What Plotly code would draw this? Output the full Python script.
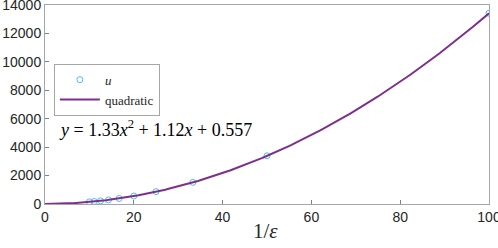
import numpy as np
import plotly.graph_objects as go

inv_eps = [10, 11.1, 12.5, 14.3, 16.7, 20, 25, 33.3, 50, 100]
u_vals = [147, 178, 224, 290, 390, 560, 870, 1520, 3390, 13420]
coef = [1.33, 1.12, 0.557]
x_ticks = [0, 20, 40, 60, 80, 100]
y_ticks = [0, 2000, 4000, 6000, 8000, 10000, 12000, 14000]

xf = np.linspace(0, 100, 300)
yf = coef[0] * xf**2 + coef[1] * xf + coef[2]

fig = go.Figure()
fig.add_trace(go.Scatter(x=inv_eps, y=u_vals, mode="markers", name="<i>u</i>",
                         marker=dict(symbol="circle-open", size=6, color="#4DBEEE",
                                     line=dict(width=1, color="#4DBEEE"))))
fig.add_trace(go.Scatter(x=xf, y=yf, mode="lines", name="quadratic",
                         line=dict(color="#7E2F8E", width=2)))

axis_common = dict(showline=True, mirror=True, linecolor="#a6a6a6", linewidth=1,
                   ticks="inside", ticklen=4, tickcolor="#808080", showgrid=False,
                   zeroline=False, automargin=False, ticklabeloverflow="allow",
                   tickfont=dict(family="Liberation Sans, Arial", size=14, color="#262626"))

fig.update_layout(
    width=498, height=248,
    margin=dict(l=45, r=9, t=5, b=44),
    paper_bgcolor="white", plot_bgcolor="white",
    showlegend=True,
    legend=dict(x=0.02, y=0.705, xanchor="left", yanchor="top",
                bordercolor="#a6a6a6", borderwidth=1, bgcolor="white",
                font=dict(family="Liberation Serif, Times New Roman", size=13, color="#262626"),
                tracegroupgap=0, itemwidth=40),
    xaxis=dict(range=[0, 100], tickvals=x_ticks, ticktext=[str(v) for v in x_ticks], **axis_common),
    yaxis=dict(range=[0, 14000], tickvals=y_ticks, ticktext=[str(v) for v in y_ticks], **axis_common),
)
fig.add_annotation(x=0.497, y=-0.136, xref="paper", yref="paper", xanchor="center", yanchor="middle",
                   showarrow=False, text="1/<i>ε</i>",
                   font=dict(family="Liberation Serif", size=21, color="#262626"))
fig.add_annotation(x=0.027, y=0.377, xref="paper", yref="paper", xanchor="left", yanchor="middle",
                   showarrow=False,
                   text="<i>y</i> = 1.33<i>x</i><sup>2</sup> + 1.12<i>x</i> + 0.557",
                   font=dict(family="Liberation Serif", size=18, color="#000000"))

fig.write_html("out.html", config={"displayModeBar": False},
               post_script="document.body.style.margin='0';")
